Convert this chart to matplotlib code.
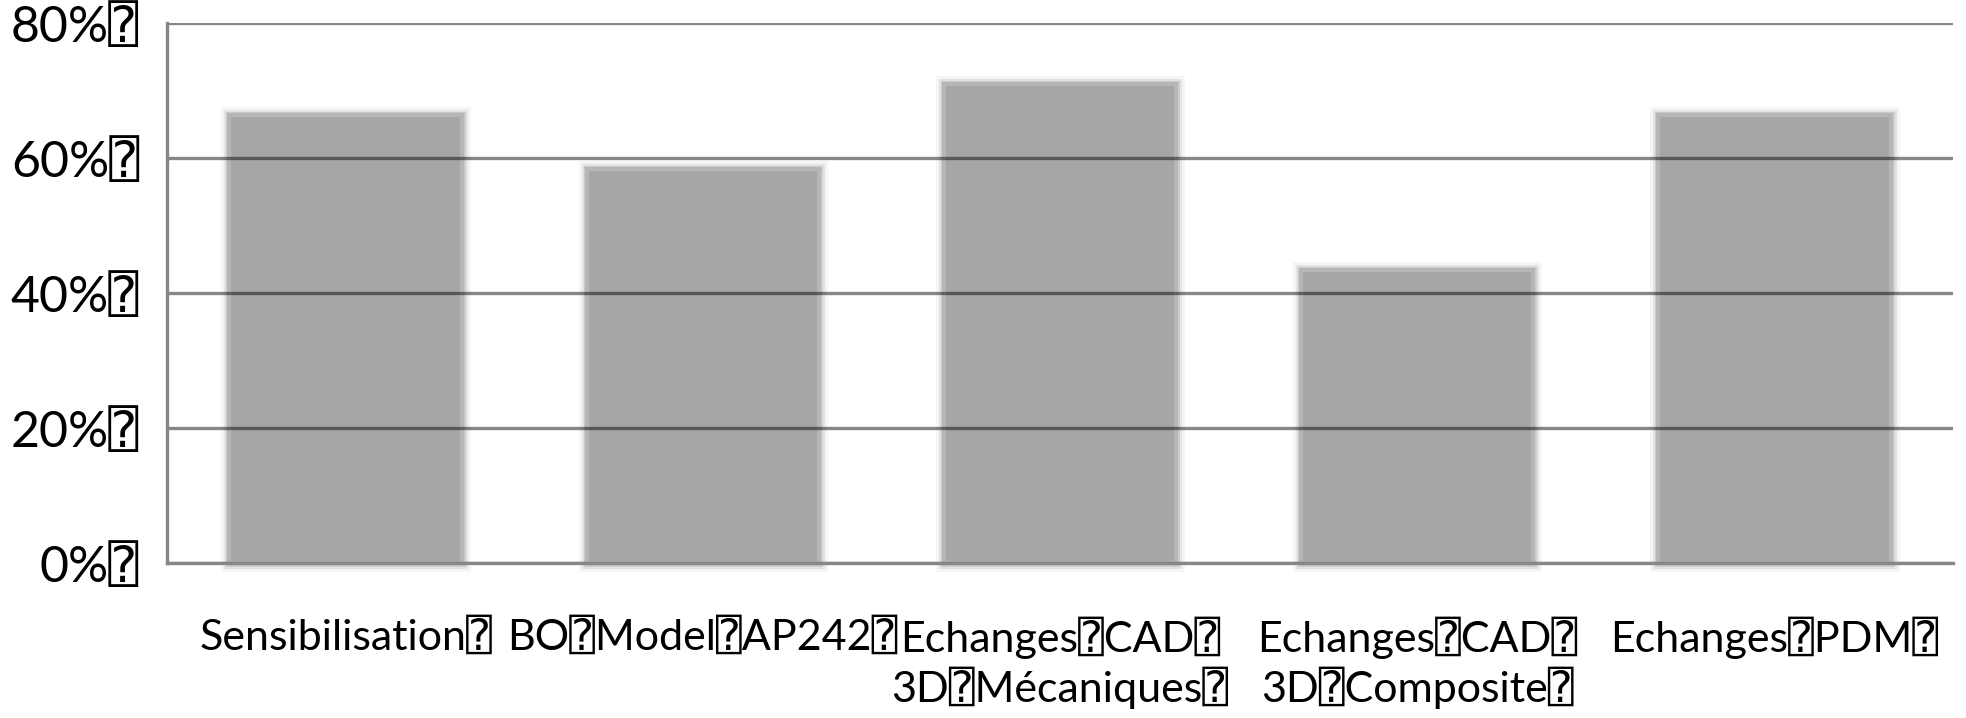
import matplotlib
matplotlib.use("Agg")
import matplotlib.pyplot as plt
import matplotlib.patheffects as pe
from matplotlib.ticker import FuncFormatter, FixedLocator

BOX = "\u2370"

categories = [
    "Sensibilisation" + BOX,
    "BO" + BOX + "Model" + BOX + "AP242" + BOX,
    "Echanges" + BOX + "CAD" + BOX + "\n3D" + BOX + "Mécaniques" + BOX,
    "Echanges" + BOX + "CAD" + BOX + "\n3D" + BOX + "Composite" + BOX,
    "Echanges" + BOX + "PDM" + BOX,
]
values = [0.663, 0.584, 0.709, 0.434, 0.663]
yticks = [0.0, 0.2, 0.4, 0.6, 0.8]

FONT = ["Lato", "DejaVu Sans", "DejaVu Sans Mono"]

fig = plt.figure(figsize=(19.66, 7.18), dpi=100)
ax = fig.add_axes([0.0849, 0.216, 0.9085, 0.752])

x = list(range(len(categories)))
bars = ax.bar(x, values, width=0.65, color="#a6a6a6", edgecolor="#b6b6b6",
              linewidth=3, zorder=1)
for b in bars:
    b.set_clip_on(False)
    b.set_path_effects([
        pe.Stroke(linewidth=12, foreground="#f5f5f5"),
        pe.Stroke(linewidth=8, foreground="#e3e3e3"),
        pe.Stroke(linewidth=5, foreground="#cdcdcd"),
        pe.Normal(),
    ])

ax.set_xlim(-0.5, len(categories) - 0.5)
ax.set_ylim(0, 0.8)
ax.yaxis.set_major_locator(FixedLocator(yticks))
ax.yaxis.set_major_formatter(FuncFormatter(lambda v, p: f"{v*100:.0f}%" + BOX))
ax.set_xticks(x)
ax.set_xticklabels(categories, fontsize=31, family=FONT, linespacing=1.2)
for t in ax.get_yticklabels():
    t.set_fontsize(36)
    t.set_family(FONT)

ax.set_axisbelow(False)
ax.yaxis.grid(True, color="black", alpha=0.47, linewidth=2.4)
ax.xaxis.grid(False)
ax.tick_params(axis="both", length=0)
ax.tick_params(axis="y", pad=20)
ax.tick_params(axis="x", pad=39)

for s in ["top", "right"]:
    ax.spines[s].set_visible(False)
for s in ["left", "bottom"]:
    ax.spines[s].set_color("#878787")
    ax.spines[s].set_linewidth(2.4)
    ax.spines[s].set_zorder(3)

fig.savefig("out.png", dpi=100, facecolor="white")
